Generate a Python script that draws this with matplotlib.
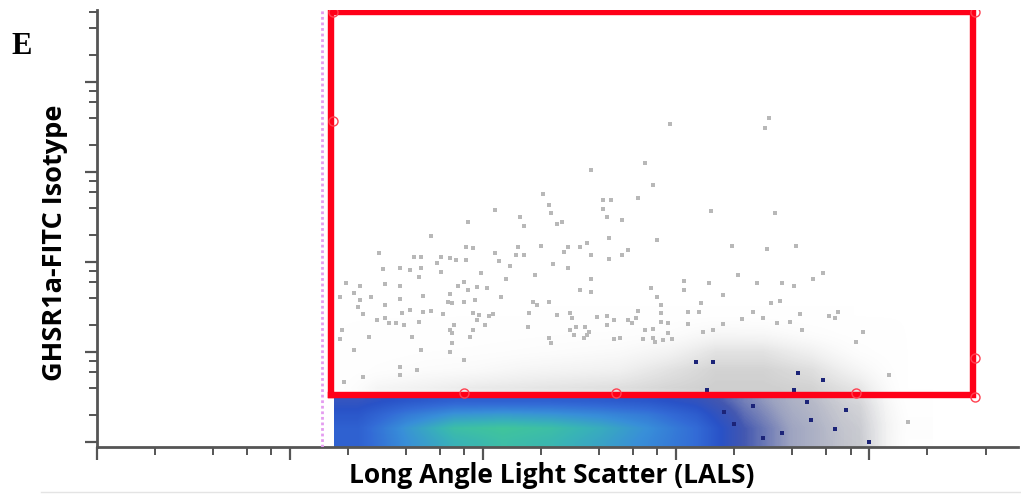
import numpy as np
import matplotlib
matplotlib.use("Agg")
import matplotlib.pyplot as plt
from matplotlib.colors import LinearSegmentedColormap
from matplotlib.ticker import FixedLocator, NullFormatter
from matplotlib.lines import Line2D

# all positions below are log10 of the channel value (decades)

# density grid of the gated population (blue -> green = more events), bin centres
band_x = [1.35, 1.6, 1.85, 2.1, 2.35, 2.6, 2.85, 3.1, 3.35, 3.6, 3.85, 4.1]
band_y = [0.0, 0.15, 0.3, 0.45]
band_density = [
    [0.50, 0.68, 0.80, 0.85, 0.82, 0.75, 0.66, 0.55, 0.30, 0.14, 0.05, 0.0],
    [0.50, 0.70, 0.85, 0.88, 0.85, 0.78, 0.68, 0.55, 0.30, 0.14, 0.05, 0.0],
    [0.45, 0.60, 0.70, 0.72, 0.70, 0.66, 0.60, 0.48, 0.26, 0.12, 0.04, 0.0],
    [0.38, 0.45, 0.50, 0.50, 0.50, 0.48, 0.45, 0.38, 0.22, 0.10, 0.03, 0.0],
]

# density grid of the ungated (grey) events, bin centres
grey_x = [1.2, 1.45, 1.7, 1.95, 2.2, 2.45, 2.7, 2.95, 3.2, 3.45, 3.7, 3.95, 4.2]
grey_y = [0.0, 0.2, 0.4, 0.6, 0.8, 1.0, 1.2, 1.4]
grey_density = [
    [0.0, 0.3, 0.3, 0.3, 0.3, 0.3, 0.3, 0.4, 0.75, 0.92, 0.92, 0.88, 0.12],
    [0.0, 0.3, 0.3, 0.3, 0.3, 0.3, 0.3, 0.4, 0.75, 0.92, 0.92, 0.85, 0.15],
    [0.0, 0.3, 0.3, 0.3, 0.4, 0.4, 0.5, 0.6, 0.85, 0.92, 0.92, 0.80, 0.08],
    [0.0, 0.40, 0.50, 0.60, 0.65, 0.70, 0.75, 0.85, 0.92, 0.92, 0.88, 0.65, 0.0],
    [0.0, 0.15, 0.25, 0.30, 0.40, 0.45, 0.50, 0.70, 0.88, 0.88, 0.75, 0.40, 0.0],
    [0.0, 0.06, 0.12, 0.15, 0.20, 0.25, 0.30, 0.45, 0.70, 0.70, 0.50, 0.18, 0.0],
    [0.0, 0.02, 0.04, 0.06, 0.09, 0.12, 0.14, 0.20, 0.38, 0.36, 0.20, 0.06, 0.0],
    [0.0, 0.0, 0.0, 0.0, 0.0, 0.02, 0.03, 0.05, 0.10, 0.08, 0.03, 0.0, 0.0],
]

# single sparse events above the main population
sparse_lals = [
    2.97, 2.84, 2.56, 2.88, 2.31, 2.80, 2.62, 2.66, 2.62, 2.34, 2.35, 2.06, 2.64, 2.19, 2.21,
    1.92, 2.72, 2.38, 2.41, 1.73, 2.90, 2.65, 1.91, 1.95, 2.18, 2.30, 2.44, 2.42, 2.50, 2.54,
    1.46, 2.06, 2.56, 2.72, 2.75, 2.17, 2.21, 1.64, 1.68, 1.78, 1.83, 1.86, 2.65, 1.91, 2.08,
    1.76, 2.36, 2.14, 1.48, 1.57, 1.62, 1.68, 1.78, 2.44, 1.99, 1.67, 2.27, 2.12, 1.29, 1.49,
    1.90, 2.56, 1.36, 1.57, 1.87, 1.92, 1.97, 2.02, 2.50, 2.56, 2.87, 1.33, 1.69, 1.83, 1.82,
    1.84, 1.26, 1.42, 1.36, 1.57, 1.96, 2.09, 2.90, 1.90, 2.26, 2.28, 2.34, 2.92, 1.49, 1.35,
    1.62, 1.58, 1.73, 1.69, 1.95, 1.98, 2.05, 2.03, 2.24, 2.38, 2.45, 2.46, 2.59, 2.64, 2.68,
    2.80, 2.92, 2.92, 1.38, 1.45, 1.49, 1.51, 1.55, 1.59, 1.67, 1.79, 1.97, 2.01, 1.85, 2.23,
    2.48, 2.53, 2.64, 2.75, 2.77, 2.79, 2.96, 1.27, 1.26, 1.41, 1.63, 1.83, 1.84, 1.93, 1.95,
    2.45, 2.47, 2.54, 2.55, 2.52, 2.84, 2.88, 2.96, 2.68, 2.71, 2.83, 2.88, 2.89, 2.93, 2.98,
    2.34, 2.35, 3.48, 3.46, 3.18, 3.51, 3.29, 3.47, 3.62, 3.32, 3.76, 3.71, 3.04, 3.04, 3.17,
    3.42, 3.55, 3.61, 3.24, 3.13, 3.49, 3.54, 3.06, 3.12, 3.40, 3.34, 3.45, 3.64, 3.79, 3.82,
    3.84, 3.52, 3.59, 3.06, 3.24, 3.97, 3.93, 3.14, 3.19, 3.65, 4.10, 4.20, 1.33, 1.68, 1.57,
    1.57, 1.66, 1.90, 1.83, 1.84, 1.38, 1.28,
]
sparse_fitc = [
    3.53, 3.10, 3.02, 2.86, 2.76, 2.71, 2.69, 2.69, 2.59, 2.63, 2.54, 2.58, 2.50, 2.50, 2.40,
    2.44, 2.47, 2.42, 2.44, 2.29, 2.24, 2.27, 2.17, 2.16, 2.17, 2.18, 2.17, 2.11, 2.17, 2.21,
    2.10, 2.10, 2.08, 2.08, 2.13, 2.08, 2.08, 2.06, 2.06, 2.06, 2.04, 2.02, 2.03, 2.02, 2.01,
    1.99, 1.98, 1.96, 1.92, 1.93, 1.91, 1.93, 1.89, 1.93, 1.88, 1.83, 1.86, 1.81, 1.77, 1.76,
    1.78, 1.81, 1.73, 1.73, 1.73, 1.69, 1.72, 1.71, 1.69, 1.67, 1.71, 1.66, 1.62, 1.64, 1.56,
    1.54, 1.61, 1.61, 1.58, 1.59, 1.58, 1.61, 1.61, 1.56, 1.56, 1.52, 1.56, 1.52, 1.52, 1.50,
    1.47, 1.43, 1.46, 1.44, 1.43, 1.41, 1.42, 1.40, 1.43, 1.41, 1.43, 1.38, 1.39, 1.40, 1.36,
    1.46, 1.43, 1.33, 1.42, 1.36, 1.38, 1.32, 1.32, 1.30, 1.33, 1.42, 1.36, 1.30, 1.30, 1.28,
    1.28, 1.28, 1.30, 1.36, 1.32, 1.38, 1.32, 1.24, 1.14, 1.17, 1.17, 1.24, 1.21, 1.17, 1.24,
    1.24, 1.19, 1.19, 1.22, 1.16, 1.24, 1.26, 1.21, 1.14, 1.16, 1.14, 1.16, 1.11, 1.13, 1.14,
    1.16, 1.10, 3.60, 3.49, 2.57, 2.54, 2.18, 2.14, 2.18, 1.86, 1.88, 1.81, 1.79, 1.69, 1.77,
    1.77, 1.77, 1.73, 1.63, 1.54, 1.54, 1.57, 1.44, 1.44, 1.44, 1.37, 1.38, 1.42, 1.40, 1.38,
    1.44, 1.32, 1.33, 1.31, 1.31, 1.22, 1.11, 1.22, 1.24, 1.24, 0.74, 0.22, 1.02, 1.02, 0.83,
    0.74, 0.80, 0.91, 1.00, 1.10, 0.72, 0.67,
]

# dark gated events scattered in the grey cloud
navy_lals = [3.10, 3.19, 3.63, 3.61, 3.76, 3.16, 3.88, 4.00, 3.40, 3.30, 3.55, 3.70,
             3.45, 3.82, 3.25, 3.68]
navy_fitc = [0.89, 0.89, 0.77, 0.58, 0.69, 0.58, 0.36, 0.00, 0.40, 0.20, 0.10, 0.25,
             0.05, 0.15, 0.33, 0.45]

# gate R1 and its handles
gate_lals = [1.212, 4.539]
gate_fitc = [0.522, 4.78]
handle_lals = [1.22, 4.55, 4.55, 1.90, 2.69, 3.93, 1.22, 4.55]
handle_fitc = [3.57, 0.93, 0.50, 0.54, 0.54, 0.54, 4.78, 4.78]
threshold_lals = 1.166


def extent_of(xc, yc):
    dx = xc[1] - xc[0]
    dy = yc[1] - yc[0]
    return [xc[0] - dx / 2, xc[-1] + dx / 2, yc[0] - dy / 2, yc[-1] + dy / 2]


fig = plt.figure(figsize=(10.21, 4.99), dpi=100)
ax = fig.add_axes([0.095, 0.104, 0.902, 0.876])

grey_cmap = LinearSegmentedColormap.from_list("grey", [(1, 1, 1, 0), (0.78, 0.78, 0.78, 1)])
ax.imshow(np.array(grey_density), origin="lower", extent=extent_of(grey_x, grey_y),
          cmap=grey_cmap, vmin=0, vmax=1, interpolation="bilinear", aspect="auto",
          zorder=0.5)

band_cmap = LinearSegmentedColormap.from_list("dens", [
    (0.0, (0.14, 0.22, 0.62, 0.0)),
    (0.15, (0.14, 0.22, 0.62, 0.3)),
    (0.30, (0.12, 0.22, 0.66, 0.8)),
    (0.42, (0.16, 0.32, 0.78, 1)),
    (0.55, (0.20, 0.42, 0.84, 1)),
    (0.68, (0.22, 0.56, 0.85, 1)),
    (0.80, (0.22, 0.70, 0.72, 1)),
    (1.0, (0.30, 0.88, 0.45, 1)),
])
ax.imshow(np.array(band_density), origin="lower", extent=extent_of(band_x, band_y),
          cmap=band_cmap, vmin=0, vmax=1, interpolation="bilinear", aspect="auto",
          zorder=1)

ax.scatter(sparse_lals, sparse_fitc, s=9, marker="s", color="#b8b8b8",
           linewidths=0, zorder=3)
ax.scatter(navy_lals, navy_fitc, s=10, marker="s", color="#1c2478",
           linewidths=0, zorder=3)

# threshold line and gate
ax.axvline(threshold_lals, color="#e49cf0", lw=2.0, ls=(0, (1, 1)), zorder=4)
x0, x1 = gate_lals
y0, y1 = gate_fitc
ax.plot([x0, x1, x1, x0, x0], [y0, y0, y1, y1, y0], color="#ff0018", lw=4.6,
        solid_joinstyle="miter", zorder=5)
ax.plot(handle_lals, handle_fitc, "o", ms=6.5, mfc="none", mec="#ff4050",
        mew=1.0, zorder=6)

ax.set_xlim(0, 4.77)
ax.set_ylim(-0.056, 4.8)

# log-decade ticks (no labels, as exported by the cytometer software)
subs = np.log10([2, 4, 6, 8])
ax.xaxis.set_major_locator(FixedLocator(np.arange(0, 5)))
ax.xaxis.set_minor_locator(FixedLocator((np.arange(0, 5)[:, None] + subs).ravel()))
ax.yaxis.set_major_locator(FixedLocator(np.arange(0, 5)))
ax.yaxis.set_minor_locator(FixedLocator((np.arange(0, 5)[:, None] + subs).ravel()))
ax.xaxis.set_major_formatter(NullFormatter())
ax.yaxis.set_major_formatter(NullFormatter())
ax.tick_params(which="major", direction="out", length=9, width=1.6, color="#555555")
ax.tick_params(which="minor", direction="out", length=5.5, width=1.4, color="#555555")
for s in ["top", "right"]:
    ax.spines[s].set_visible(False)
for s in ["left", "bottom"]:
    ax.spines[s].set_color("#555555")
    ax.spines[s].set_linewidth(2)
    ax.spines[s].set_zorder(2.5)

fig.text(0.54, 0.048, "Long Angle Light Scatter (LALS)", ha="center", va="center",
         fontsize=19, fontweight="bold", family="Open Sans")
fig.text(0.054, 0.513, "GHSR1a-FITC Isotype", ha="center", va="center", rotation=90,
         fontsize=19.5, fontweight="bold", family="Open Sans")
fig.text(0.011, 0.906, "E", ha="left", va="center", fontsize=22, fontweight="bold",
         family="Liberation Serif")
fig.add_artist(Line2D([0.04, 1.0], [0.015, 0.015], color="#e4e4e4", lw=1))

fig.savefig("out.png", dpi=100)
